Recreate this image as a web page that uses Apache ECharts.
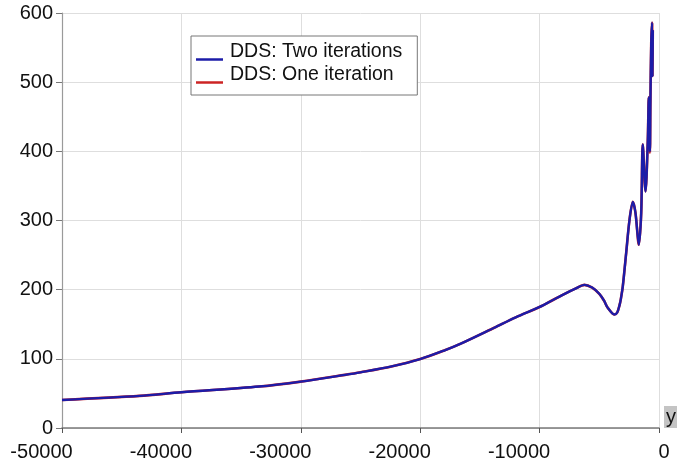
<!DOCTYPE html>
<html>
<head>
<meta charset="utf-8">
<script src="https://cdn.jsdelivr.net/npm/echarts@6/dist/echarts.min.js"></script>
<style>
  html, body { margin: 0; padding: 0; background: #fff; }
  #chart { width: 677px; height: 461px; }
</style>
</head>
<body>
<div id="chart"></div>
<script>
// x positions of the sampled points
const xValues = [
  -50000, -43500, -40000, -33500, -30000, -26300, -25000, -22400, -20000,
  -18000, -16600, -13800, -12000, -10000, -9000, -7900, -7000, -6240,
  -5600, -5000, -4600, -4300, -3730, -3500, -3300, -3200, -3030, -2750,
  -2470, -2190, -1970, -1690, -1490, -1360, -1130, -940, -855, -760,
  -720, -650, -580, -550, -520
];
// DDS: Two iterations
const twoIterations = [
  40.5, 46.4, 51.7, 59.9, 67.1, 76.8, 80.5, 89, 99.6,
  112, 122, 145, 160, 175, 184, 194, 201.5, 207,
  203, 194, 184, 174, 164, 167, 178, 186, 205, 253,
  301, 327, 311, 265, 311, 410, 342, 415, 478, 400,
  470, 557, 586, 509, 575
];
// DDS: One iteration
const oneIterations = [
  40.5, 46.4, 51.7, 59.9, 67.1, 76.8, 80.5, 89, 99.6,
  112, 122, 145, 160, 175, 184, 194, 201.5, 207,
  203, 194, 184, 174, 164, 167, 178, 186, 205, 253,
  301, 327, 311, 265, 311, 410, 342, 415, 478, 398,
  470, 557, 586, 509, 575
];
const seriesNames = ['DDS: Two iterations', 'DDS: One iteration'];
const xTicks = { min: -50000, max: 0, step: 10000 };
const yTicks = { min: 0, max: 600, step: 100 };

const pairs = (ys) => xValues.map((x, i) => [x, ys[i]]);

const chart = echarts.init(document.getElementById('chart'), null, { renderer: 'canvas' });
const fontFamily = '"Liberation Sans", Arial, sans-serif';
const tickFont = '20px "Liberation Sans", Arial, sans-serif';
// legend swatch: thin bar on the text baseline, with a little room after it
const lineIcon = 'path://M0,0 M29,0 M0,15 L27,15 L27,17.5 L0,17.5 Z';

// x tick labels end about 10px to the right of their tick
const LABEL_RIGHT = 10.5;
const measure = (() => {
  const ctx = document.createElement('canvas').getContext('2d');
  ctx.font = tickFont;
  return (s) => ctx.measureText(s).width;
})();
const padKey = (pad) => (pad >= 0 ? 'r' + Math.round(pad) : 'l' + Math.round(-pad));
function xLabel(v) {
  const s = String(v);
  return '{' + padKey(measure(s) - 2 * LABEL_RIGHT) + '|' + s + '}';
}
const xRich = {};
for (let v = xTicks.min; v <= xTicks.max; v += xTicks.step) {
  const pad = measure(String(v)) - 2 * LABEL_RIGHT;
  xRich[padKey(pad)] = {
    fontSize: 20, color: '#111', fontFamily: fontFamily,
    padding: pad >= 0 ? [0, Math.round(pad), 0, 0] : [0, 0, 0, Math.round(-pad)]
  };
}

chart.setOption({
  animation: false,
  backgroundColor: '#ffffff',
  grid: { left: 62, right: 18, top: 13, bottom: 33, containLabel: false, outerBoundsMode: 'none' },
  legend: {
    orient: 'vertical',
    left: 191,
    top: 36,
    data: [
      { name: seriesNames[0], icon: lineIcon },
      { name: seriesNames[1], icon: lineIcon }
    ],
    itemWidth: 29,
    itemHeight: 20,
    itemGap: 3,
    padding: [6, 15, 10, 5],
    borderColor: '#777',
    borderWidth: 1,
    backgroundColor: '#fff',
    textStyle: { fontSize: 19.5, color: '#111', fontFamily: fontFamily }
  },
  xAxis: {
    type: 'value',
    min: xTicks.min,
    max: xTicks.max,
    interval: xTicks.step,
    name: 'y',
    nameLocation: 'end',
    nameGap: 5,
    nameTextStyle: {
      fontSize: 20,
      fontFamily: fontFamily,
      color: '#111',
      backgroundColor: '#c4c4c4',
      padding: [1, 10, 1, 2],
      verticalAlign: 'bottom',
      align: 'left'
    },
    axisLine: { show: true, onZero: false, lineStyle: { color: '#7a7a7a', width: 1.5 } },
    axisTick: { show: true, length: 5, lineStyle: { color: '#555' } },
    axisLabel: {
      fontSize: 20, color: '#111', margin: 14, fontFamily: fontFamily,
      hideOverlap: false,
      formatter: xLabel,
      rich: xRich
    },
    splitLine: { show: true, lineStyle: { color: '#dedede', width: 1 } }
  },
  yAxis: {
    type: 'value',
    min: yTicks.min,
    max: yTicks.max,
    interval: yTicks.step,
    axisLine: { show: true, onZero: false, lineStyle: { color: '#9a9a9a', width: 1.2 } },
    axisTick: { show: true, length: 6, lineStyle: { color: '#777' } },
    axisLabel: { fontSize: 20, color: '#111', margin: 9, fontFamily: fontFamily },
    splitLine: { show: true, lineStyle: { color: '#dedede', width: 1 } }
  },
  series: [
    {
      name: seriesNames[1],
      type: 'line',
      data: pairs(oneIterations),
      showSymbol: false,
      smooth: 0.3,
      itemStyle: { color: '#cc2424' },
      lineStyle: { color: '#cc2424', width: 2.6 },
      z: 2
    },
    {
      name: seriesNames[0],
      type: 'line',
      data: pairs(twoIterations),
      showSymbol: false,
      smooth: 0.3,
      itemStyle: { color: '#1c1ca8' },
      lineStyle: { color: '#1c1ca8', width: 2.4 },
      z: 3
    }
  ]
});
</script>
</body>
</html>
